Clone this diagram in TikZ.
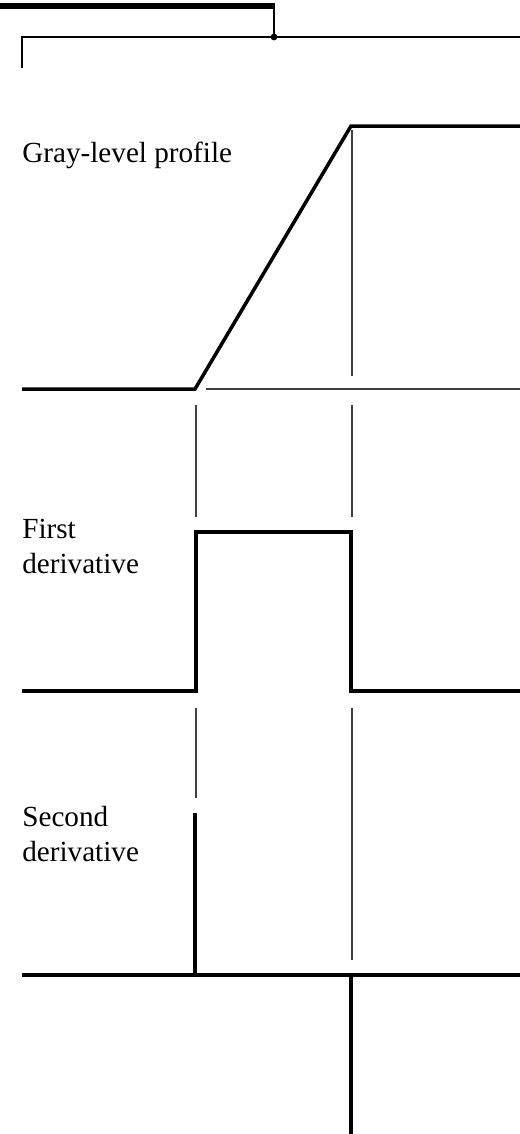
\documentclass[tikz,border=0pt]{standalone}
\usepackage{fontspec}
\setmainfont{Liberation Serif}
\usetikzlibrary{positioning}

\begin{document}
\begin{tikzpicture}[x=0.02cm,y=-0.02cm,
    bar/.style={line width=3.2pt},
    wire/.style={line width=1.2pt},
    curve/.style={line width=2pt,line join=miter},
    guide/.style={line width=0.7pt,black!75},
    lbl/.style={anchor=base west,inner sep=0pt,align=left,
      font=\fontsize{16.6}{19.9}\selectfont}]
  \useasboundingbox (0,0) rectangle (520,1134);
  % bracket at the top
  \coordinate (t0) at (0,6);
  \coordinate (t1) at (275,6);
  \coordinate (j) at (274,37);
  \coordinate (w0) at (22,68);
  \coordinate (w1) at (22,37);
  \coordinate (w2) at (520,37);
  \draw[bar] (t0) -- (t1);
  \draw[wire] (274,6) -- (j);
  \draw[wire] (w0) -- (w1) -- (w2);
  \fill (j) circle (3.4);

  % labels
  \node[lbl] (gray) at (22,162) {Gray-level profile};
  \node[lbl] (first) at (22,573) {First\\derivative};
  \node[lbl] (second) at (22,861) {Second\\derivative};

  % gray-level profile
  \coordinate (a0) at (22,389);
  \coordinate (a1) at (195,389);
  \coordinate (a2) at (351,126);
  \coordinate (a3) at (520,126);
  \draw[curve] (a0) -- (a1) -- (a2) -- (a3);
  \draw[guide,line width=1pt] (206,389) -- (520,389);
  \draw[guide] (352,130) -- (352,376);

  % guides between profile and first derivative
  \draw[guide] (196,405) -- (196,517);
  \draw[guide] (352,405) -- (352,517);

  % first derivative
  \coordinate (b0) at (22,691);
  \coordinate (b1) at (196,691);
  \coordinate (b2) at (196,532);
  \coordinate (b3) at (351,532);
  \coordinate (b4) at (351,691);
  \coordinate (b5) at (520,691);
  \draw[curve] (b0) -- (b1) -- (b2) -- (b3) -- (b4) -- (b5);

  % guides between first and second derivative
  \draw[guide] (196,708) -- (196,798);
  \draw[guide] (352,708) -- (352,960);

  % second derivative
  \coordinate (c0) at (22,975);
  \coordinate (c1) at (520,975);
  \coordinate (p0) at (195,813);
  \coordinate (p1) at (195,975);
  \coordinate (n0) at (351,975);
  \coordinate (n1) at (351,1134);
  \draw[curve] (c0) -- (c1);
  \draw[curve] (p0) -- (p1);
  \draw[curve] (n0) -- (n1);
\end{tikzpicture}
\end{document}
